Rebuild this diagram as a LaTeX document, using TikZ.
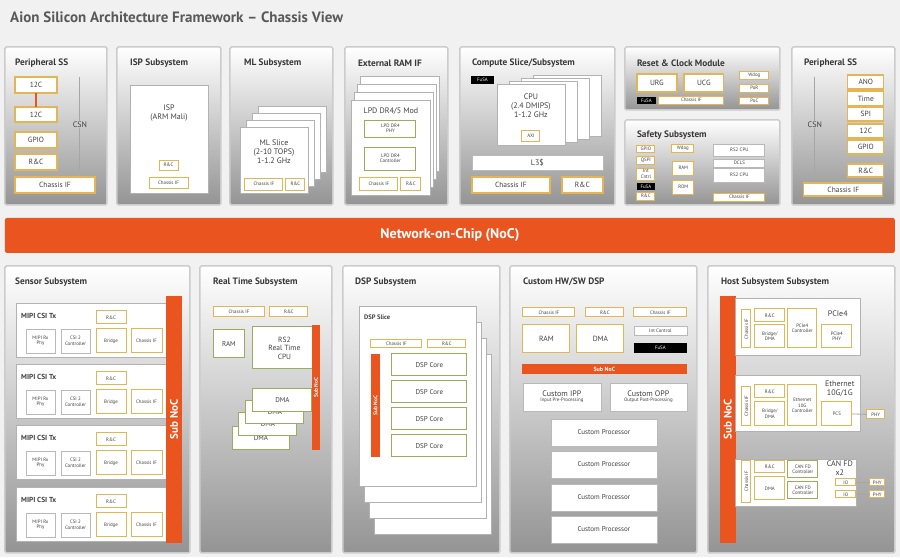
\documentclass[tikz,border=0pt]{standalone}
\usepackage{fontspec}
\setmainfont{PT Sans}
\definecolor{org}{HTML}{E9541F}
\definecolor{ybc}{HTML}{E2B657}
\definecolor{gbc}{HTML}{9AAD5E}
\definecolor{bgc}{HTML}{F1F1F1}
\newcommand\B[7]{\node[#1,anchor=north west,minimum width={((#5)-(#3))*1pt},minimum height={((#6)-(#4))*1pt}] (#2) at (#3,#4) {#7};}
\newcommand\R[7]{\node[#1,rotate=90,minimum width={(#5)*1pt},minimum height={(#6)*1pt}] (#2) at (#3,#4) {#7};}
\tikzset{
 base/.style={inner sep=0pt,outer sep=0pt,align=center,font=\fontsize{4.9}{5.5}\selectfont,text=black!75},
 yb/.style={base,draw=ybc,fill=white,line width=0.9pt},
 ybb/.style={yb,line width=1.3pt,font=\fontsize{7.5}{8}\selectfont},
 gb/.style={base,draw=gbc,fill=white,line width=0.9pt},
 wb/.style={base,draw=gray!55,fill=white,line width=0.7pt},
 kb/.style={base,fill=black,text=white},
 card/.style={base,draw=gray!60,fill=white,line width=0.7pt},
 panel/.style={base,draw=gray!40,line width=1.5pt,top color=white,bottom color=black!42,rounded corners=1.5pt},
 ob/.style={base,fill=org,text=white,font=\bfseries\fontsize{9}{9}\selectfont},
 ttl/.style={anchor=west,inner sep=0pt,font=\bfseries\fontsize{9.3}{10}\selectfont,text=black!78},
 mid/.style={base,font=\fontsize{8}{9}\selectfont},
 sm/.style={base,font=\fontsize{6.3}{7}\selectfont},
 f7/.style={font=\fontsize{7}{7.5}\selectfont},
}
\begin{document}
\begin{tikzpicture}[x=1pt,y=-1pt]
\node[fill=bgc,minimum width=900pt,minimum height=557pt,inner sep=0,anchor=north west] (bg) at (0,0) {};
\useasboundingbox (0,0) rectangle (900,557);
\node[anchor=west,inner sep=0,font=\bfseries\fontsize{15}{16}\selectfont,text=black!65] (title) at (10,17) {Aion Silicon Architecture Framework -- Chassis View};
% ===== top panels
\B{panel}{p1}{5}{47}{107}{205}{}
\B{panel}{p2}{117}{47}{221}{205}{}
\B{panel}{p3}{230}{47}{333}{205}{}
\B{panel}{p4}{345}{47}{448}{205}{}
\B{panel}{p5}{460}{47}{615}{205}{}
\B{panel}{p6}{625}{47}{780}{110}{}
\B{panel}{p7}{625}{120}{780}{205}{}
\B{panel}{p8}{792}{47}{895}{205}{}
\node[ttl] (t1) at (15,63) {Peripheral SS};
\node[ttl] (t2) at (130,63) {ISP Subsystem};
\node[ttl] (t3) at (244,63) {ML Subsystem};
\node[ttl] (t4) at (358,63) {External RAM IF};
\node[ttl] (t5) at (472,63) {Compute Slice/Subsystem};
\node[ttl] (t6) at (637,63) {Reset \& Clock Module};
\node[ttl] (t7) at (637,135) {Safety Subsystem};
\node[ttl] (t8) at (804,63) {Peripheral SS};
% Peripheral SS left
\B{ybb}{i2a}{15}{77}{57}{93}{12C}
\B{ybb}{i2b}{15}{107}{57}{122}{12C}
\B{ybb}{gp1}{15}{132}{57}{148}{GPIO}
\B{ybb}{rc1}{15}{154}{57}{170}{R\&C}
\B{ybb}{ci1}{15}{177}{95}{193}{Chassis IF}
\draw[org,line width=1.5pt] (i2a.south) -- (i2b.north);
\node[mid] (csn1) at (80,125) {CSN};
\coordinate (c1t) at (80,77); \coordinate (c1b) at (80,170);
\draw[gray!70,line width=1pt] (c1t) -- (csn1.north) (csn1.south) -- (c1b);
% ISP
\B{card}{ispb}{130}{85}{208}{193}{}
\node[mid] (isp) at (169,113) {ISP\\(ARM Mali)};
\B{yb}{isprc}{159}{160}{178}{170}{R\&C}
\B{yb}{ispci}{149}{177}{188}{188}{Chassis IF}
% ML
\foreach \i in {3,2,1} {\B{card}{ml\i}{240+6*\i}{127-7*\i}{308+6*\i}{193-7*\i}{}}
\B{card}{ml0}{240}{127}{308}{193}{}
\node[mid] (mltxt) at (274,152) {ML Slice\\(2-10 TOPS)\\1-1.2 GHz};
\B{yb}{mlci}{245}{178}{283}{190}{Chassis IF}
\B{yb}{mlrc}{286}{178}{305}{190}{R\&C}
% Ext RAM
\foreach \i in {3,2,1} {\B{card}{er\i}{351+3*\i}{100-8*\i}{430+3*\i}{195-8*\i}{}}
\B{card}{er0}{351}{100}{430}{195}{}
\node[mid] (ertxt) at (391,111) {LPD DR4/5 Mod};
\B{gb}{erphy}{365}{120}{416}{137}{LPD DR4\\PHY}
\B{gb}{ercon}{365}{147}{416}{170}{LPD DR4\\Controller}
\B{yb}{erci}{360}{177}{398}{190}{Chassis IF}
\B{yb}{errc}{401}{177}{421}{190}{R\&C}
% Compute
\B{kb}{cfusa}{471}{76}{494}{84}{FuSA}
\foreach \i in {3,2,1} {\B{card}{cp\i}{497+12*\i}{84-3*\i}{565+12*\i}{145-3*\i}{}}
\B{card}{cp0}{497}{84}{565}{145}{}
\node[mid] (cptxt) at (531,106) {CPU\\(2.4 DMIPS)\\1-1.2 GHz};
\B{yb}{axi}{522}{130}{540}{141}{AXI}
\B{wb,font=\fontsize{8}{8}\selectfont}{l3}{472}{155}{603}{170}{L3\$}
\B{ybb}{cci}{472}{177}{550}{193}{Chassis IF}
\B{ybb}{crc}{562}{177}{603}{193}{R\&C}
% Reset & Clock
\B{ybb}{urg}{637}{74}{677}{92}{URG}
\B{ybb}{ucg}{684}{74}{724}{92}{UCG}
\B{kb}{rfusa}{637}{97}{656}{104}{FuSA}
\B{yb}{rci}{659}{96}{724}{104}{Chassis IF}
\B{yb}{wdog}{740}{71}{769}{79}{Wdog}
\B{yb}{por}{740}{84}{769}{92}{PoR}
\B{yb}{poc}{740}{97}{769}{104}{PoC}
% Safety
\B{yb}{sgp}{637}{145}{655}{152}{GPIO}
\B{yb}{sqs}{637}{156}{655}{164}{QSPI}
\B{yb}{sic}{637}{168}{655}{180}{Int\\Cntrl}
\B{kb}{sfu}{637}{183}{655}{190}{FuSA}
\B{yb}{src}{637}{192}{655}{200}{R\&C}
\B{yb}{swd}{672}{144}{694}{152}{Wdog}
\B{yb}{sram}{673}{161}{694}{175}{RAM}
\B{yb}{srom}{673}{180}{694}{194}{ROM}
\B{wb}{rs2a}{714}{144}{765}{156}{RS2 CPU}
\B{wb}{dcls}{714}{159}{765}{167}{DCLS}
\B{wb}{rs2b}{714}{168}{765}{182}{RS2 CPU}
\B{yb}{sci}{714}{193}{765}{201}{Chassis IF}
% Peripheral SS right
\B{ybb}{ano}{848}{75}{884}{89}{ANO}
\B{ybb}{tim}{848}{91}{884}{106}{Time}
\B{ybb}{spi}{848}{107}{884}{121}{SPI}
\B{ybb}{i2c}{848}{124}{884}{138}{12C}
\B{ybb}{gp2}{848}{140}{884}{154}{GPIO}
\B{ybb}{rc2}{848}{164}{884}{177}{R\&C}
\B{ybb}{ci2}{804}{183}{883}{196}{Chassis IF}
\node[mid] (csn2) at (815,125) {CSN};
\coordinate (c2t) at (815,77); \coordinate (c2b) at (815,175);
\draw[gray!70,line width=1pt] (c2t) -- (csn2.north) (csn2.south) -- (c2b);
% ===== NoC
\B{base,fill=org,text=white,font=\bfseries\fontsize{14}{14}\selectfont,rounded corners=2pt}{noc}{5}{218}{895}{253}{Network-on-Chip (NoC)}
% ===== bottom panels
\B{panel}{q1}{5}{266}{190}{553}{}
\B{panel}{q2}{200}{266}{332}{553}{}
\B{panel}{q3}{343}{266}{500}{553}{}
\B{panel}{q4}{510}{266}{697}{553}{}
\B{panel}{q5}{708}{266}{895}{553}{}
\node[ttl] (u1) at (15,282) {Sensor Subsystem};
\node[ttl] (u2) at (213,282) {Real Time Subsystem};
\node[ttl] (u3) at (355,282) {DSP Subsystem};
\node[ttl] (u4) at (523,282) {Custom HW/SW DSP};
\node[ttl] (u5) at (721,282) {Host Subsystem Subsystem};
% Sensor
\foreach \y [count=\k] in {303,364,425,487} {
 \B{card}{mr\k}{16}{\y}{166}{\y+54}{}
 \node[anchor=west,inner sep=0,font=\bfseries\fontsize{7.3}{8}\selectfont,text=black!75] (mt\k) at (21,\y+13) {MIPI CSI Tx};
 \B{yb}{mrc\k}{96}{\y+8}{126}{\y+21}{R\&C}
 \B{wb}{mph\k}{26}{\y+26}{55}{\y+50}{MIPI Rx\\Phy}
 \B{wb}{mcs\k}{61}{\y+26}{90}{\y+50}{CSI 2\\Controller}
 \B{yb}{mbr\k}{96}{\y+26}{126}{\y+50}{Bridge}
 \B{yb}{mci\k}{131}{\y+26}{162}{\y+50}{Chassis IF}
}
\R{ob,font=\bfseries\fontsize{11}{11}\selectfont}{snoc1}{174}{419.5}{247}{16}{Sub NoC}
% Real Time
\B{yb}{rtci}{213}{307}{265}{317}{Chassis IF}
\B{yb}{rtrc}{270}{307}{308}{317}{R\&C}
\B{gb,f7}{rtram}{213}{330}{245}{358}{RAM}
\B{gb,font=\fontsize{7.5}{8.5}\selectfont}{rs2}{253}{327}{316}{369}{RS2\\Real Time\\CPU}
\B{gb,f7}{dma3}{232}{427}{290}{450}{DMA}
\B{gb,f7}{dma2}{239}{413}{297}{436}{DMA}
\B{gb,f7}{dma1}{246}{401}{304}{424}{DMA}
\B{gb,f7}{dma0}{253}{389}{312}{412}{DMA}
\R{ob,font=\bfseries\fontsize{5.5}{5.5}\selectfont}{snoc2}{316}{387.5}{125}{8}{Sub NoC}
% DSP
\foreach \i in {3,2,1} {\B{card}{ds\i}{359+5*\i}{306+16*\i}{476+5*\i}{486+16*\i}{}}
\B{card}{ds0}{359}{306}{476}{486}{}
\node[anchor=west,inner sep=0,font=\bfseries\fontsize{6.5}{7}\selectfont,text=black!75] (dsl) at (364,317) {DSP Slice};
\B{yb}{dsci}{371}{340}{422}{348}{Chassis IF}
\B{yb}{dsrc}{428}{340}{466}{348}{R\&C}
\R{ob,font=\bfseries\fontsize{5.5}{5.5}\selectfont}{snoc3}{375.5}{405.5}{103}{9}{Sub NoC}
\foreach \y [count=\k] in {354,381,408,435} {\B{gb,f7}{dc\k}{392}{\y}{467}{\y+22}{DSP Core}}
% Custom HW/SW
\B{yb}{hci1}{523}{308}{575}{317}{Chassis IF}
\B{yb}{hrc}{586}{308}{624}{317}{R\&C}
\B{yb}{hci2}{634}{308}{687}{317}{Chassis IF}
\B{yb,font=\fontsize{7.5}{7.5}\selectfont}{hram}{523}{325}{570}{353}{RAM}
\B{yb,font=\fontsize{7.5}{7.5}\selectfont}{hdma}{577}{325}{624}{353}{DMA}
\B{wb}{hint}{634}{326}{687}{335}{Int Control}
\B{kb}{hfu}{634}{343}{687}{353}{FuSA}
\B{ob,font=\bfseries\fontsize{6}{6}\selectfont}{snoc4}{522}{364}{687}{374}{Sub NoC}
\B{wb}{ipp}{523}{383}{601}{411}{{\fontsize{8}{9}\selectfont Custom IPP}\\Input Pre-Processing}
\B{wb}{opp}{610}{383}{687}{411}{{\fontsize{8}{9}\selectfont Custom OPP}\\Output Post-Processing}
\foreach \y [count=\k] in {419,451,484,516} {\B{wb,f7}{cpr\k}{551}{\y}{657}{\y+27}{Custom Processor}}
% Host
\R{ob,font=\bfseries\fontsize{11}{11}\selectfont}{snoc5}{728}{419.5}{247}{16}{Sub NoC}
\B{card}{pcc}{736}{298}{861}{355}{}
\R{yb}{pci}{746.5}{329}{38}{9}{Chassis IF}
\B{yb}{prc}{755}{309}{785}{322}{R\&C}
\B{yb}{pbd}{755}{325}{785}{348}{Bridge/\\DMA}
\B{yb}{pco}{788}{309}{817}{348}{PCIe4\\Controller}
\B{yb}{pphy}{822}{325}{852}{348}{PCIe4\\PHY}
\node[base,font=\fontsize{8}{9}\selectfont] (pl) at (838,314) {PCIe4};
\B{card}{etc}{736}{375}{861}{431}{}
\R{yb}{eci}{746.5}{406}{39}{9}{Chassis IF}
\B{yb}{erc}{755}{385}{785}{398}{R\&C}
\B{yb}{ebd}{755}{402}{785}{426}{Bridge/\\DMA}
\B{yb}{eco}{788}{385}{817}{426}{Ethernet\\10G\\Controller}
\B{yb}{pcs}{822}{402}{852}{426}{PCS}
\node[base,font=\fontsize{8}{9}\selectfont] (el) at (840,389) {Ethernet\\10G/1G};
\B{yb}{ephy}{867}{410}{885}{419}{PHY}
\draw[gray!70,line width=0.8pt] (pcs.east) -- (ephy.west);
\B{card}{cnc}{736}{459}{857}{506}{}
\R{yb}{cci2}{746.5}{481.5}{42}{9}{Chassis IF}
\B{yb}{crc2}{755}{461}{785}{473}{R\&C}
\B{yb}{cdma}{755}{477}{785}{500}{DMA}
\B{gb}{cfd1}{788}{461}{818}{478}{CAN FD\\Controller}
\B{gb}{cfd2}{788}{482}{818}{499}{CAN FD\\Controller}
\node[base,font=\fontsize{8}{9}\selectfont] (cl) at (840,468) {CAN FD\\x2};
\B{yb}{io1}{836}{479}{856}{486}{IO}
\B{yb}{io2}{836}{491}{856}{498}{IO}
\B{yb}{cphy1}{870}{479}{885}{486}{PHY}
\B{yb}{cphy2}{870}{491}{885}{498}{PHY}
\draw[gray!70,line width=0.8pt] (io1.east) -- (cphy1.west) (io2.east) -- (cphy2.west);
\end{tikzpicture}
\end{document}
